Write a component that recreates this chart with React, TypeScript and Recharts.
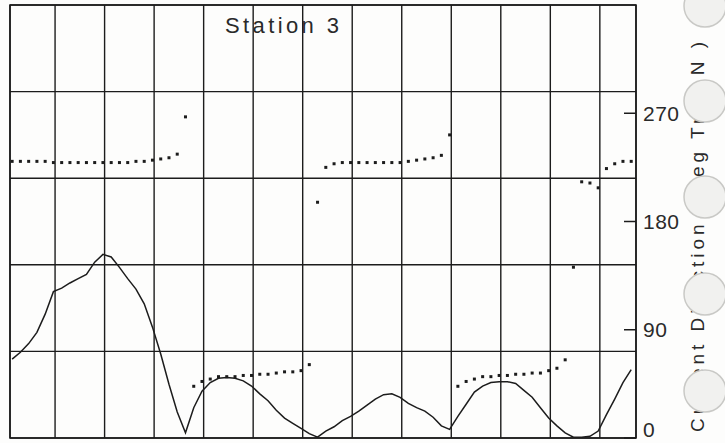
import React from "react";
import {
  ComposedChart,
  Line,
  Scatter,
  XAxis,
  YAxis,
  CartesianGrid,
  ReferenceArea,
} from "recharts";

// 10-minute samples; first sample a little after hour 0
const SAMPLE_START_H = 0.8 / 6;
const SAMPLE_STEP_H = 1 / 6;

// current speed (left scale, not labelled on the sheet)
const speed = [
  9.1, 9.9, 10.9, 12.2, 14.3, 16.9, 17.3, 17.9, 18.4, 18.9,
  20.3, 21.2, 20.9, 19.7, 18.4, 17.2, 15.5, 12.8, 9.7, 6.2,
  3.0, 0.6, 3.5, 5.4, 6.4, 6.9, 7.0, 6.9, 6.6, 6.0,
  5.1, 4.3, 3.2, 2.3, 1.7, 1.1, 0.5, 0.1, 0.8, 1.3,
  2.0, 2.5, 3.1, 3.8, 4.5, 5.0, 5.1, 4.7, 4.0, 3.5,
  3.1, 2.4, 1.4, 1.0, 2.5, 3.9, 5.3, 6.0, 6.4, 6.5,
  6.5, 6.3, 5.5, 4.7, 3.5, 2.3, 1.4, 0.6, 0.1, 0.1,
  0.2, 0.8, 2.7, 4.5, 6.4, 7.9,
];

// current direction, deg true north
const direction = [
  230, 230, 230, 230, 230, 229, 229, 229, 229, 229,
  229, 229, 229, 229, 229, 230, 230, 231, 232, 233,
  236, 267,
  43, 47, 49, 51, 51, 51, 52, 52, 53, 53, 54, 55, 55, 56, 61,
  196,
  225, 228, 229, 229, 229, 229, 229, 229, 229, 229, 230, 231, 232, 233, 235,
  252,
  43, 47, 49, 51, 51, 52, 52, 53, 53, 54, 54, 56, 58, 65,
  142,
  213, 212, 208, 224, 228, 230, 230,
];

const hourTicks = [1, 2, 3, 4, 5, 6, 7, 8, 9, 10, 11, 12];
const speedTicks = [0, 10, 20, 30, 40, 50];
const dirTicks = [0, 90, 180, 270];

const X_DOMAIN: [number, number] = [0.09, 12.73];
const INK = "#1c1c1c";
const FONT = "'Liberation Sans', Arial, sans-serif";

const rows = speed.map((s, i) => ({
  t: SAMPLE_START_H + i * SAMPLE_STEP_H,
  speed: s,
  dir: direction[i],
}));

function DirTick(props: any) {
  const { x, y, payload } = props;
  // the bottom label sits on the page edge; lift it so it stays whole
  const lift = payload.value === 0 ? -9 : 0;
  return (
    <g>
      <line x1={x - 20} x2={x - 8} y1={y} y2={y} stroke={INK} strokeWidth={1.5} />
      <text
        x={x - 1}
        y={y + lift}
        dy="0.36em"
        fill="#2a2a2a"
        fontFamily={FONT}
        fontSize={21}
        letterSpacing={0.5}
      >
        {payload.value}
      </text>
    </g>
  );
}

function Dot(props: any) {
  const { cx, cy } = props;
  if (cx == null || cy == null) return null;
  return <rect x={cx - 1.5} y={cy - 1.5} width={3} height={3} fill={INK} />;
}

// binder holes punched down the right margin of the scanned sheet
const holeY = [6, 101, 197, 294, 391];

export default function App() {
  return (
    <div
      style={{
        position: "absolute",
        left: 0,
        top: 0,
        width: 725,
        height: 443,
        background: "#fdfdfc",
        overflow: "hidden",
      }}
    >
      <ComposedChart
        width={725}
        height={443}
        data={rows}
        margin={{ top: 5, right: 0, bottom: 5, left: 10 }}
      >
        <XAxis
          dataKey="t"
          type="number"
          domain={X_DOMAIN}
          ticks={hourTicks}
          allowDataOverflow
          hide
        />
        <YAxis yAxisId="speed" domain={[0, 50]} ticks={speedTicks} hide />
        <YAxis
          yAxisId="dir"
          orientation="right"
          domain={[0, 360]}
          ticks={dirTicks}
          width={89}
          axisLine={false}
          tickLine={false}
          tick={<DirTick />}
          interval={0}
        />
        <CartesianGrid yAxisId="speed" stroke={INK} strokeWidth={1.4} />
        <ReferenceArea
          yAxisId="speed"
          x1={X_DOMAIN[0]}
          x2={X_DOMAIN[1]}
          y1={0}
          y2={50}
          fill="none"
          fillOpacity={0}
          stroke={INK}
          strokeWidth={1.6}
          ifOverflow="visible"
        />
        <Line
          yAxisId="speed"
          dataKey="speed"
          type="linear"
          stroke={INK}
          strokeWidth={1.5}
          dot={false}
          isAnimationActive={false}
        />
        <Scatter
          yAxisId="dir"
          dataKey="dir"
          shape={<Dot />}
          isAnimationActive={false}
        />
      </ComposedChart>

      <svg
        width={725}
        height={443}
        style={{ position: "absolute", left: 0, top: 0, pointerEvents: "none" }}
      >
        <text
          x={225}
          y={33}
          textLength={114}
          lengthAdjust="spacing"
          fill="#2a2a2a"
          fontFamily={FONT}
          fontSize={22}
        >
          Station 3
        </text>
        <text
          transform="translate(704, 432) rotate(-90)"
          textLength={390}
          lengthAdjust="spacing"
          fill="#2a2a2a"
          fontFamily={FONT}
          fontSize={19}
        >
          Current Direction ( deg True N )
        </text>
        {holeY.map((cy) => (
          <circle
            key={cy}
            cx={705}
            cy={cy}
            r={21}
            fill="#f1f1ef"
            stroke="#c9c9c6"
            strokeWidth={1.5}
          />
        ))}
      </svg>
    </div>
  );
}
